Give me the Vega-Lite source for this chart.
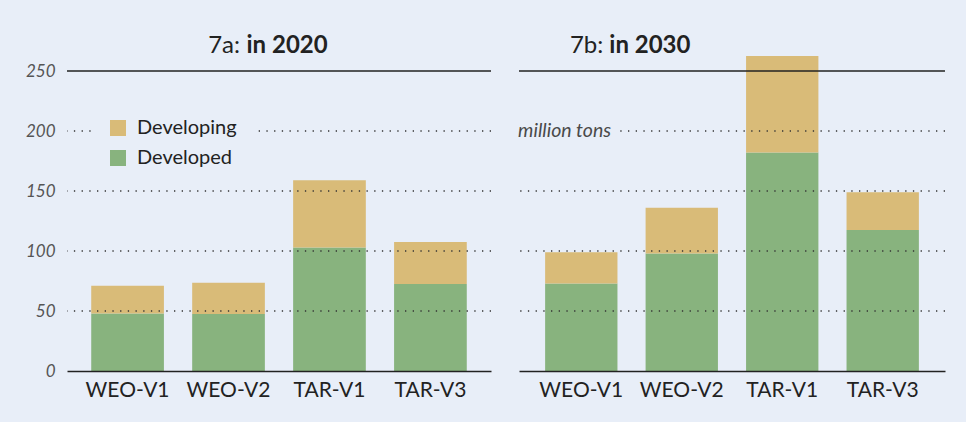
{
  "$schema": "https://vega.github.io/schema/vega-lite/v6.json",
  "background": "#e8eef8",
  "padding": {"left": 25, "top": 34, "right": 22, "bottom": 26},
  "config": {
    "view": {"stroke": null},
    "font": "Lato",
    "axis": {"ticks": false, "grid": false, "title": null}
  },
  "datasets": {
    "bars": [
      {"panel": "2020", "scenario": "WEO-V1", "group": "Developed", "value": 48},
      {"panel": "2020", "scenario": "WEO-V1", "group": "Developing", "value": 23},
      {"panel": "2020", "scenario": "WEO-V2", "group": "Developed", "value": 47.5},
      {"panel": "2020", "scenario": "WEO-V2", "group": "Developing", "value": 26},
      {"panel": "2020", "scenario": "TAR-V1", "group": "Developed", "value": 103},
      {"panel": "2020", "scenario": "TAR-V1", "group": "Developing", "value": 56},
      {"panel": "2020", "scenario": "TAR-V3", "group": "Developed", "value": 72.5},
      {"panel": "2020", "scenario": "TAR-V3", "group": "Developing", "value": 35},
      {"panel": "2030", "scenario": "WEO-V1", "group": "Developed", "value": 73},
      {"panel": "2030", "scenario": "WEO-V1", "group": "Developing", "value": 26},
      {"panel": "2030", "scenario": "WEO-V2", "group": "Developed", "value": 98},
      {"panel": "2030", "scenario": "WEO-V2", "group": "Developing", "value": 38},
      {"panel": "2030", "scenario": "TAR-V1", "group": "Developed", "value": 182},
      {"panel": "2030", "scenario": "TAR-V1", "group": "Developing", "value": 80.5},
      {"panel": "2030", "scenario": "TAR-V3", "group": "Developed", "value": 117.5},
      {"panel": "2030", "scenario": "TAR-V3", "group": "Developing", "value": 31.5}
    ],
    "grid": [{"v": 50}, {"v": 100}, {"v": 150}, {"v": 200}],
    "one": [{"k": 1}]
  },
  "spacing": 26,
  "resolve": {"scale": {"color": "independent", "y": "independent", "x": "independent"}, "legend": {"color": "independent"}},
  "hconcat": [
    {
      "width": 424,
      "height": 300,
      "layer": [
        {
          "data": {"name": "bars"},
          "transform": [{"filter": "datum.panel === '2020'"}],
          "mark": {"type": "bar"},
          "encoding": {
            "x": {
              "field": "scenario", "type": "nominal",
              "sort": ["WEO-V1", "WEO-V2", "TAR-V1", "TAR-V3"],
              "scale": {"paddingInner": 0.28, "paddingOuter": 0.24},
              "axis": {"labelAngle": 0, "labelFontSize": 21, "labelColor": "#222222", "labelPadding": 8, "domainColor": "#222222", "domainWidth": 1.5, "zindex": 1}
            },
            "y": {
              "field": "value", "type": "quantitative", "stack": "zero",
              "scale": {"domain": [0, 250], "nice": false},
              "axis": {"values": [0, 50, 100, 150, 200, 250], "domain": false, "labelFontSize": 17, "labelFontStyle": "italic", "labelColor": "#555555", "labelPadding": 12}
            },
            "order": {"field": "group", "sort": "ascending"},
            "color": {
              "field": "group", "type": "nominal",
              "scale": {"domain": ["Developing", "Developed"], "range": ["#d9bb78", "#88b37e"]},
              "legend": {
                "title": null, "orient": "none", "legendX": 25, "legendY": 31,
                "fillColor": "#e8eef8", "padding": 16, "symbolType": "square", "symbolSize": 256,
                "symbolStrokeWidth": 0, "symbolOpacity": 1, "labelFontSize": 20, "labelColor": "#222222",
                "labelOffset": 9, "rowPadding": 10
              }
            }
          }
        },
        {
          "data": {"name": "grid"},
          "mark": {"type": "rule", "strokeDash": [1.3, 6.4], "strokeWidth": 1.3, "color": "#333333"},
          "encoding": {"y": {"field": "v", "type": "quantitative"}}
        },
        {
          "data": {"name": "one"},
          "mark": {"type": "rule", "strokeWidth": 1.5, "color": "#222222"},
          "encoding": {"y": {"datum": 250}}
        },
        {
          "data": {"name": "one"},
          "mark": {"type": "text", "align": "right", "baseline": "alphabetic", "fontSize": 24, "dx": 11.5, "dy": -18, "color": "#222222"},
          "encoding": {"x": {"datum": "WEO-V2"}, "y": {"datum": 250}, "text": {"value": "7a:"}}
        },
        {
          "data": {"name": "one"},
          "mark": {"type": "text", "align": "left", "baseline": "alphabetic", "fontSize": 24, "fontWeight": "bold", "dx": 18, "dy": -18, "color": "#222222"},
          "encoding": {"x": {"datum": "WEO-V2"}, "y": {"datum": 250}, "text": {"value": "in 2020"}}
        }
      ]
    },
    {
      "width": 426,
      "height": 300,
      "layer": [
        {
          "data": {"name": "bars"},
          "transform": [{"filter": "datum.panel === '2030'"}],
          "mark": {"type": "bar"},
          "encoding": {
            "x": {
              "field": "scenario", "type": "nominal",
              "sort": ["WEO-V1", "WEO-V2", "TAR-V1", "TAR-V3"],
              "scale": {"paddingInner": 0.28, "paddingOuter": 0.26},
              "axis": {"labelAngle": 0, "labelFontSize": 21, "labelColor": "#222222", "labelPadding": 8, "domainColor": "#222222", "domainWidth": 1.5, "zindex": 1}
            },
            "y": {
              "field": "value", "type": "quantitative", "stack": "zero",
              "scale": {"domain": [0, 250], "nice": false},
              "axis": null
            },
            "order": {"field": "group", "sort": "ascending"},
            "color": {
              "field": "group", "type": "nominal",
              "scale": {"domain": ["Developing", "Developed"], "range": ["#d9bb78", "#88b37e"]},
              "legend": null
            }
          }
        },
        {
          "data": {"name": "grid"},
          "mark": {"type": "rule", "strokeDash": [1.3, 6.4], "strokeWidth": 1.3, "color": "#333333"},
          "encoding": {"y": {"field": "v", "type": "quantitative"}}
        },
        {
          "data": {"name": "one"},
          "mark": {"type": "rule", "strokeWidth": 1.5, "color": "#222222"},
          "encoding": {"y": {"datum": 250}}
        },
        {
          "data": {"name": "one"},
          "mark": {"type": "text", "align": "left", "baseline": "middle", "fontSize": 19.5, "fontStyle": "italic", "dx": -27, "color": "#e8eef8", "stroke": "#e8eef8", "strokeWidth": 14},
          "encoding": {"x": {"datum": "WEO-V1", "bandPosition": 0}, "y": {"datum": 200}, "text": {"value": "million tons\u00a0"}}
        },
        {
          "data": {"name": "one"},
          "mark": {"type": "text", "align": "left", "baseline": "middle", "fontSize": 19.5, "fontStyle": "italic", "dx": -27, "color": "#4a4a4a"},
          "encoding": {"x": {"datum": "WEO-V1", "bandPosition": 0}, "y": {"datum": 200}, "text": {"value": "million tons"}}
        },
        {
          "data": {"name": "one"},
          "mark": {"type": "text", "align": "right", "baseline": "alphabetic", "fontSize": 24, "dx": 22, "dy": -18, "color": "#222222"},
          "encoding": {"x": {"datum": "WEO-V1"}, "y": {"datum": 250}, "text": {"value": "7b:"}}
        },
        {
          "data": {"name": "one"},
          "mark": {"type": "text", "align": "left", "baseline": "alphabetic", "fontSize": 24, "fontWeight": "bold", "dx": 28, "dy": -18, "color": "#222222"},
          "encoding": {"x": {"datum": "WEO-V1"}, "y": {"datum": 250}, "text": {"value": "in 2030"}}
        }
      ]
    }
  ]
}
